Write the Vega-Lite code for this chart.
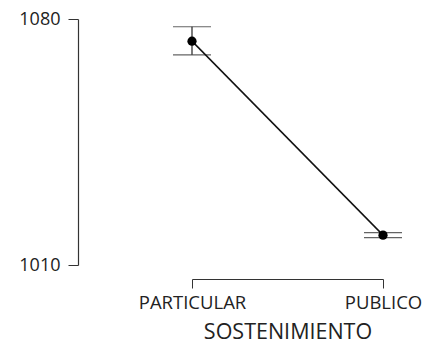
{
  "$schema": "https://vega.github.io/schema/vega-lite/v6.json",
  "autosize": {"type": "none"},
  "padding": {"left": 192, "top": 19, "right": 39, "bottom": 83},
  "width": 191,
  "height": 246,
  "background": "white",
  "config": {
    "view": {"stroke": null},
    "axis": {"grid": false, "labelFont": "Open Sans", "titleFont": "Open Sans", "labelColor": "#222222", "titleColor": "#222222", "domainColor": "#333333", "tickColor": "#333333", "titleFontWeight": "normal"}
  },
  "data": {
    "values": [
      {"SOSTENIMIENTO": "PARTICULAR", "mean": 1073.7, "lower": 1069.8, "upper": 1077.8},
      {"SOSTENIMIENTO": "PUBLICO", "mean": 1018.5, "lower": 1017.8, "upper": 1019.2}
    ]
  },
  "encoding": {
    "x": {
      "field": "SOSTENIMIENTO", "type": "nominal",
      "scale": {"type": "point", "padding": 0},
      "axis": {"labelAngle": 0, "labelFontSize": 18.5, "titleFontSize": 21.5, "tickSize": 9, "domainWidth": 1, "tickWidth": 1, "labelPadding": 5, "titlePadding": 10, "offset": 14}
    }
  },
  "layer": [
    {
      "mark": {"type": "rule", "color": "#222222", "strokeWidth": 1.2, "clip": false},
      "encoding": {
        "y": {"field": "lower", "type": "quantitative", "scale": {"domain": [1010, 1080], "nice": false, "zero": false},
          "axis": {"values": [1010, 1080], "format": "d", "title": null, "labelFontSize": 18, "tickSize": 10, "labelPadding": 8, "offset": 114, "domainWidth": 1.2}},
        "y2": {"field": "upper"}
      }
    },
    {
      "mark": {"type": "tick", "color": "#222222", "size": 38, "thickness": 1.2, "clip": false},
      "encoding": {"y": {"field": "lower", "type": "quantitative"}}
    },
    {
      "mark": {"type": "tick", "color": "#222222", "size": 38, "thickness": 1.2, "clip": false},
      "encoding": {"y": {"field": "upper", "type": "quantitative"}}
    },
    {
      "mark": {"type": "line", "color": "#111111", "strokeWidth": 1.5, "clip": false},
      "encoding": {"y": {"field": "mean", "type": "quantitative"}}
    },
    {
      "mark": {"type": "point", "filled": true, "color": "#000000", "opacity": 1, "size": 85, "clip": false},
      "encoding": {"y": {"field": "mean", "type": "quantitative"}}
    }
  ]
}
